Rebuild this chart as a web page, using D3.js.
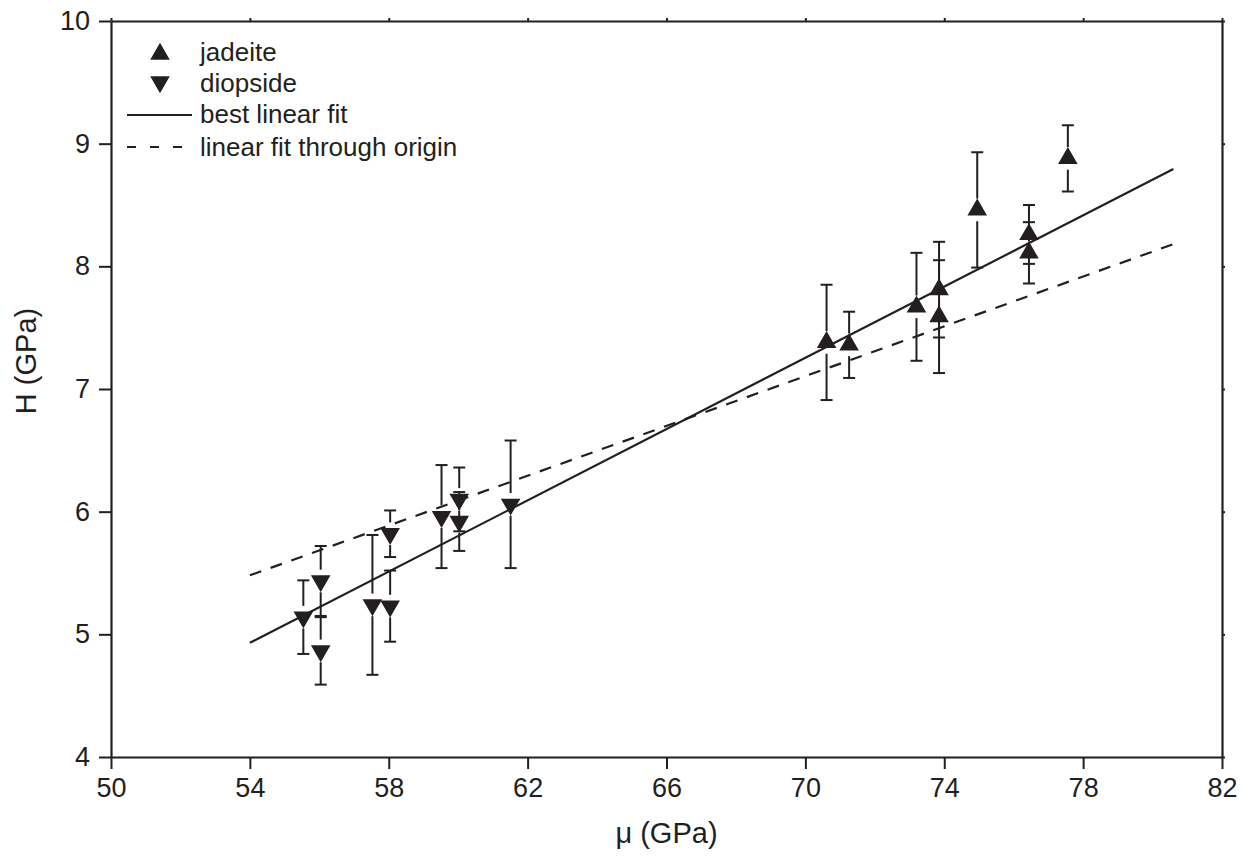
<!DOCTYPE html>
<html>
<head>
<meta charset="utf-8">
<script src="https://cdn.jsdelivr.net/npm/d3@7"></script>
<style>
  body { margin: 0; background: #fff; }
  text { font-family: "Liberation Sans", Arial, sans-serif; fill: #231f20; }
</style>
</head>
<body>
<script>
// jadeite (up triangles)
const jadMu  = [70.61, 71.26, 73.2, 73.85, 73.85, 74.95, 76.44, 76.44, 77.56];
const jadH   = [7.38, 7.36, 7.67, 7.81, 7.59, 8.46, 8.26, 8.11, 8.88];
const jadErr = [0.47, 0.27, 0.44, 0.39, 0.46, 0.47, 0.24, 0.25, 0.27];

// diopside (down triangles)
const dioMu  = [55.54, 56.04, 56.04, 57.53, 58.04, 58.04, 59.52, 60.03, 60.03, 61.51];
const dioH   = [5.14, 5.435, 4.865, 5.24, 5.23, 5.82, 5.96, 5.92, 6.10, 6.06];
const dioErr = [0.30, 0.285, 0.275, 0.57, 0.29, 0.19, 0.42, 0.24, 0.26, 0.52];

// fits
const fitRange = [54, 80.6];
const bestFit = [-2.91, 0.1452];   // intercept, slope
const originSlope = 0.1015;

const xTicks = [50, 54, 58, 62, 66, 70, 74, 78, 82];
const yTicks = [4, 5, 6, 7, 8, 9, 10];
const legendLabels = ["jadeite", "diopside", "best linear fit", "linear fit through origin"];

const ink = "#231f20";
const margin = {top: 21, right: 21, bottom: 100, left: 111},
  width = 1243 - margin.left - margin.right,
  height = 857 - margin.top - margin.bottom;

const svg = d3.select("body")
  .append("svg")
  .attr("width", 1243)
  .attr("height", 857)
  .append("g")
  .attr("transform", `translate(${margin.left},${margin.top})`);

const x = d3.scaleLinear().domain([50, 82]).range([0, width]);
const y = d3.scaleLinear().domain([4, 10]).range([height, 0]);

// axes
function styleAxis(g) {
  g.select(".domain").attr("stroke", ink).attr("stroke-width", 2.2);
  g.selectAll(".tick line").attr("stroke", ink).attr("stroke-width", 2);
  g.selectAll("text").attr("font-size", 27).attr("fill", ink)
    .attr("font-family", "Liberation Sans, Arial, sans-serif");
}

svg.append("g")
  .attr("transform", `translate(0,${height})`)
  .call(d3.axisBottom(x).tickValues(xTicks).tickFormat(d3.format("d"))
    .tickSize(12).tickPadding(9).tickSizeOuter(0))
  .call(styleAxis);

svg.append("g")
  .call(d3.axisLeft(y).tickValues(yTicks).tickFormat(d3.format("d"))
    .tickSize(12).tickPadding(9).tickSizeOuter(0))
  .call(styleAxis);

svg.append("g")
  .call(d3.axisTop(x).tickValues(xTicks).tickSize(3).tickFormat("").tickSizeOuter(0))
  .call(styleAxis);

svg.append("g")
  .attr("transform", `translate(${width},0)`)
  .call(d3.axisRight(y).tickValues(yTicks).tickSize(3).tickFormat("").tickSizeOuter(0))
  .call(styleAxis);

// axis titles
svg.append("text")
  .attr("text-anchor", "middle")
  .attr("x", width / 2)
  .attr("y", height + 86)
  .attr("font-size", 29)
  .text("μ (GPa)");

svg.append("text")
  .attr("text-anchor", "middle")
  .attr("transform", "rotate(-90)")
  .attr("x", -340)
  .attr("y", -75)
  .attr("font-size", 29)
  .text("H (GPa)");

// fit lines
const line = d3.line().x(d => x(d[0])).y(d => y(d[1]));
svg.append("path")
  .datum(fitRange.map(m => [m, bestFit[0] + bestFit[1] * m]))
  .attr("d", line)
  .attr("fill", "none")
  .attr("stroke", ink)
  .attr("stroke-width", 2.2);

svg.append("path")
  .datum(fitRange.map(m => [m, originSlope * m]))
  .attr("d", line)
  .attr("fill", "none")
  .attr("stroke", ink)
  .attr("stroke-width", 2.2)
  .attr("stroke-dasharray", "12,10");

// markers + error bars
const symSize = 166;
const R = 2 * Math.sqrt(symSize / (Math.sqrt(3) * 3)); // circumradius
const cap = 6;

function drawSeries(mu, h, err, rot) {
  const data = mu.map((m, i) => ({mu: m, h: h[i], e: err[i]}));
  const g = svg.append("g");
  data.forEach(d => {
    const cx = x(d.mu), cy = y(d.h);
    const top = y(d.h + d.e), bot = y(d.h - d.e);
    g.append("line").attr("x1", cx).attr("x2", cx).attr("y1", top).attr("y2", cy - R)
      .attr("stroke", ink).attr("stroke-width", 2);
    g.append("line").attr("x1", cx).attr("x2", cx).attr("y1", cy + R).attr("y2", bot)
      .attr("stroke", ink).attr("stroke-width", 2);
    [top, bot].forEach(yy => {
      g.append("line").attr("x1", cx - cap).attr("x2", cx + cap).attr("y1", yy).attr("y2", yy)
        .attr("stroke", ink).attr("stroke-width", 2);
    });
  });
  g.selectAll("path")
    .data(data)
    .enter()
    .append("path")
    .attr("d", d3.symbol(d3.symbolTriangle, symSize))
    .attr("transform", d => `translate(${x(d.mu)},${y(d.h)}) rotate(${rot})`)
    .attr("fill", ink);
}

drawSeries(dioMu, dioH, dioErr, 180);
drawSeries(jadMu, jadH, jadErr, 0);

// legend
const lg = svg.append("g");
const rows = [33, 61, 94, 126];
lg.append("path").attr("d", d3.symbol(d3.symbolTriangle, symSize))
  .attr("transform", `translate(49,${rows[0]})`).attr("fill", ink);
lg.append("path").attr("d", d3.symbol(d3.symbolTriangle, symSize))
  .attr("transform", `translate(49,${rows[1]}) rotate(180)`).attr("fill", ink);
lg.append("line").attr("x1", 16).attr("x2", 81).attr("y1", rows[2]).attr("y2", rows[2])
  .attr("stroke", ink).attr("stroke-width", 2.2);
lg.append("line").attr("x1", 16).attr("x2", 81).attr("y1", rows[3]).attr("y2", rows[3])
  .attr("stroke", ink).attr("stroke-width", 2.2).attr("stroke-dasharray", "9,14");

lg.selectAll("text.leg")
  .data(legendLabels)
  .enter()
  .append("text")
  .attr("class", "leg")
  .attr("x", 89)
  .attr("y", (d, i) => [40, 71, 102, 135][i])
  .attr("font-size", 26)
  .text(d => d);
</script>
</body>
</html>
